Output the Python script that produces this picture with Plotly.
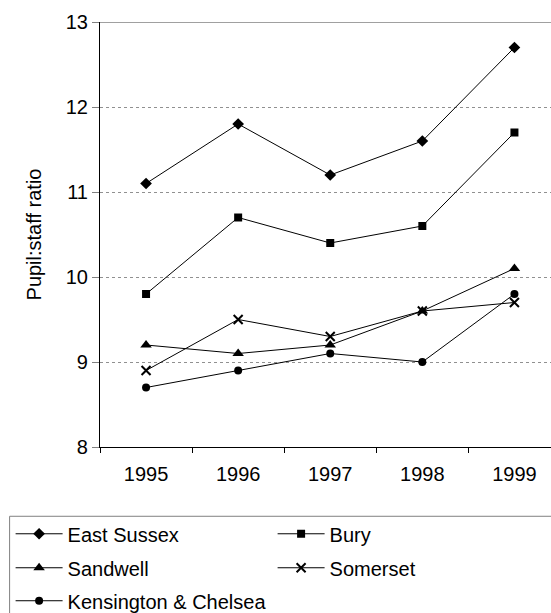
import plotly.graph_objects as go

years = ["1995", "1996", "1997", "1998", "1999"]
east_sussex = [11.1, 11.8, 11.2, 11.6, 12.7]
bury = [9.8, 10.7, 10.4, 10.6, 11.7]
sandwell = [9.2, 9.1, 9.2, 9.6, 10.1]
somerset = [8.9, 9.5, 9.3, 9.6, 9.7]
kensington = [8.7, 8.9, 9.1, 9.0, 9.8]

# name, values, marker symbol, marker size, legend row
series = [
    ("East Sussex", east_sussex, "diamond", 9, "legend"),
    ("Bury", bury, "square", 8, "legend"),
    ("Sandwell", sandwell, "triangle-up", 10, "legend2"),
    ("Somerset", somerset, "x-thin", 9, "legend2"),
    ("Kensington & Chelsea", kensington, "circle", 8, "legend3"),
]

FONT = "Liberation Sans, Arial, sans-serif"
FS = 20

# plot area in pixels
W, H = 551, 613
L, T, B = 99.5, 21.5, 446.7
R = 551
pw, ph = R - L, B - T

fig = go.Figure()
for name, vals, sym, size, leg in series:
    fig.add_trace(go.Scatter(
        x=years, y=vals, name=name, mode="lines+markers", legend=leg,
        line=dict(color="black", width=1),
        marker=dict(symbol=sym, size=size, color="black",
                    line=dict(color="black", width=2 if sym == "x-thin" else 0)),
    ))

def px_x(p):
    return (p - L) / pw

def px_y(p):
    return (B - p) / ph

shapes = [
    # heavier top line at 13
    dict(type="line", xref="paper", yref="y", x0=0, x1=1, y0=13, y1=13,
         line=dict(color="#808080", width=1.5)),
    # legend frame
    dict(type="rect", xref="paper", yref="paper",
         x0=px_x(9), x1=px_x(560), y0=px_y(516), y1=px_y(620),
         line=dict(color="#808080", width=1), fillcolor="rgba(0,0,0,0)"),
]

def legend_row(top_px):
    return dict(
        orientation="h", x=px_x(10), y=px_y(top_px), xanchor="left", yanchor="top",
        entrywidth=200, entrywidthmode="pixels", itemwidth=47,
        font=dict(family=FONT, size=FS, color="black"),
        bgcolor="rgba(0,0,0,0)", borderwidth=0, traceorder="normal",
        maxheight=1,
    )

fig.update_layout(
    width=W, height=H,
    margin=dict(l=L, r=W - R, t=T, b=H - B, pad=0, autoexpand=False),
    paper_bgcolor="white", plot_bgcolor="white",
    font=dict(family=FONT, size=FS, color="black"),
    showlegend=True,
    legend=legend_row(514),
    legend2=legend_row(548),
    legend3=legend_row(581),
    xaxis=dict(
        type="category", range=[-0.5, -0.5 + pw / 92.2],
        tickson="boundaries", ticks="outside", ticklen=5, tickcolor="black",
        ticklabelstandoff=9,
        showline=True, linecolor="black", linewidth=1.2,
        showgrid=False, zeroline=False,
        tickfont=dict(family=FONT, size=FS),
    ),
    yaxis=dict(
        range=[8, 13], tickvals=[8, 9, 10, 11, 12, 13],
        ticks="outside", ticklen=7, tickcolor="#808080",
        showline=True, linecolor="black", linewidth=1.2,
        showgrid=True, gridcolor="#909090", griddash="dot", gridwidth=1,
        zeroline=False,
        title=dict(text="Pupil:staff ratio", standoff=18,
                   font=dict(family=FONT, size=FS)),
        tickfont=dict(family=FONT, size=FS),
    ),
    shapes=shapes,
)

fig.write_html("out.html")
